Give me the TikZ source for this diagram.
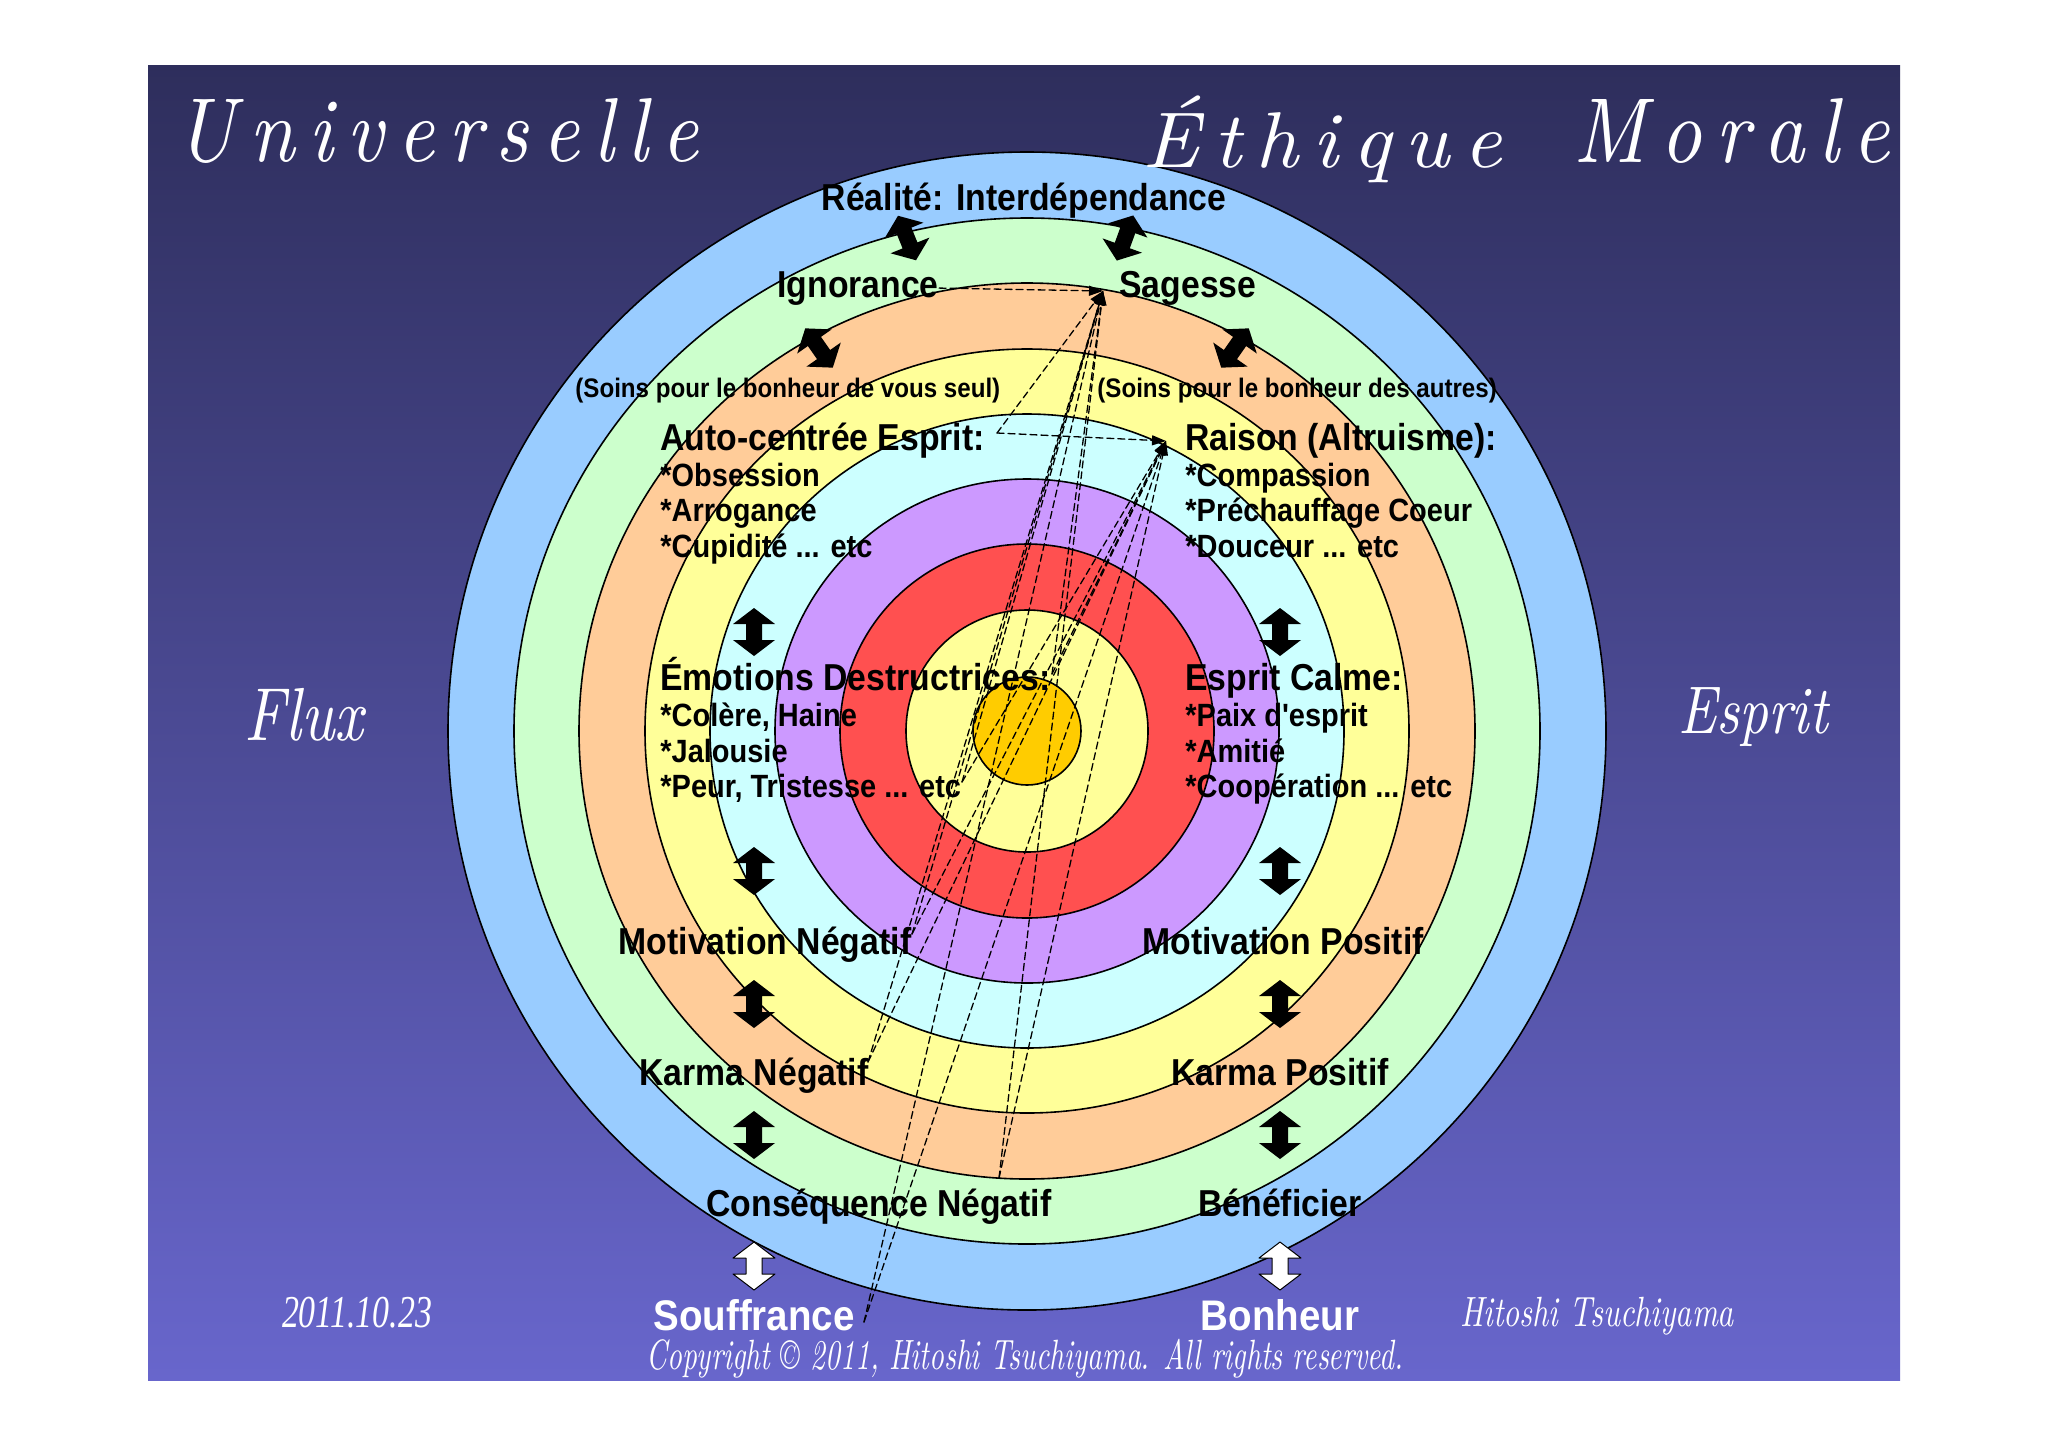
\documentclass[tikz,border=0pt]{standalone}
\usepackage{fontspec}
\usepackage{tikz}
\usetikzlibrary{arrows.meta}
\newfontfamily\lblfont[FakeStretch=0.9]{Liberation Sans}
\newfontfamily\datefont{Liberation Serif}
\definecolor{bgtop}{RGB}{46,46,92}
\definecolor{bgbot}{RGB}{104,102,204}
\definecolor{ringblue}{HTML}{99CCFF}
\definecolor{ringgreen}{HTML}{CCFFCC}
\definecolor{ringorange}{HTML}{FFCC99}
\definecolor{ringyellow}{HTML}{FFFF99}
\definecolor{ringcyan}{HTML}{CCFFFF}
\definecolor{ringpurple}{HTML}{CC99FF}
\definecolor{ringred}{HTML}{FF5050}
\definecolor{ringcore}{HTML}{FFCC00}
\makeatletter
\def\spreadword#1{\spread@loop#1\relax}
\def\spread@loop#1{\ifx#1\relax\unkern\else#1\kern0.17em\expandafter\spread@loop\fi}
\makeatother

\begin{document}
\begin{tikzpicture}[x=0.5pt,y=-0.5pt,line cap=round,line join=round,
  ring/.style={draw=black,line width=0.8pt},
  hdr/.style={font=\lblfont\bfseries\fontsize{18.75}{20}\selectfont,inner sep=0pt},
  itm/.style={font=\lblfont\bfseries\fontsize{16.1}{18}\selectfont,inner sep=0pt},
  care/.style={font=\lblfont\bfseries\fontsize{13.4}{15}\selectfont,inner sep=0pt},
  fate/.style={font=\lblfont\bfseries\fontsize{21.4}{23}\selectfont,text=white,inner sep=0pt},
  script/.style={text=white,inner sep=0pt},
  flow/.style={draw=black,line width=0.65pt,dash pattern=on 3.5pt off 2pt,-{Triangle[length=7pt,width=5pt]}},
  updown/.pic={\path[pic actions] (0,-24) -- (21,-8) -- (8,-8) -- (8,8) -- (21,8) -- (0,24) -- (-21,8) -- (-8,8) -- (-8,-8) -- (-21,-8) -- cycle;}]
\path[use as bounding box] (0,0) rectangle (2048,1447);
\fill[white] (0,0) rectangle (2048,1447);
\shade[top color=bgtop,bottom color=bgbot] (148,65) rectangle (1900,1380);
\filldraw[ring,fill=ringblue] (1027,731) circle[radius=579];
\filldraw[ring,fill=ringgreen] (1027,731) circle[radius=513];
\filldraw[ring,fill=ringorange] (1027,731) circle[radius=448];
\filldraw[ring,fill=ringyellow] (1027,731) circle[radius=382];
\filldraw[ring,fill=ringcyan] (1027,731) circle[radius=317];
\filldraw[ring,fill=ringpurple] (1027,731) circle[radius=252];
\filldraw[ring,fill=ringred] (1027,731) circle[radius=187];
\filldraw[ring,fill=ringyellow] (1027,731) circle[radius=121];
\filldraw[ring,fill=ringcore] (1027,731) circle[radius=54];
\node[script] (univ) at (437.5,130.5) {\resizebox*{261.5pt}{32.5pt}{\itshape\spreadword{Universelle}}};
\node[script] (ethq) at (1322.5,139.5) {\resizebox*{180pt}{43.5pt}{\itshape\spreadword{Éthique}}};
\node[script] (morl) at (1732,130.5) {\resizebox*{158pt}{32.5pt}{\itshape\spreadword{Morale}}};
\node[script] (flux) at (304,714.5) {\resizebox*{59pt}{26.5pt}{\itshape Flux}};
\node[script] (esprit) at (1753,717.5) {\resizebox*{75pt}{29.5pt}{\itshape Esprit}};
\node[script] (date) at (357,1312.5) {\resizebox*{75pt}{15.5pt}{\datefont\itshape 2011.10.23}};
\node[script] (auth) at (1597,1316) {\resizebox*{137pt}{19pt}{\itshape Hitoshi Tsuchiyama}};
\node[script] (copy) at (1025,1358.5) {\resizebox*{378.5pt}{19.5pt}{\itshape Copyright © 2011, Hitoshi Tsuchiyama. All rights reserved.}};
\node[hdr,anchor=base] (real) at (1024,210) {Réalité: Interdépendance};
\node[hdr,anchor=base west] (ign) at (777,297) {Ignorance};
\node[hdr,anchor=base west] (sag) at (1119,297) {Sagesse};
\node[care,anchor=base west] (soinl) at (575,397) {(Soins pour le bonheur de vous seul)};
\node[care,anchor=base west] (soinr) at (1097,397) {(Soins pour le bonheur des autres)};
\node[hdr,anchor=base west] (auto) at (660,450) {Auto-centrée Esprit:};
\node[itm,anchor=base west] (obs) at (660,486) {*Obsession};
\node[itm,anchor=base west] (arr) at (660,521) {*Arrogance};
\node[itm,anchor=base west] (cup) at (660,557) {*Cupidité ... etc};
\node[hdr,anchor=base west] (raison) at (1185,450) {Raison (Altruisme):};
\node[itm,anchor=base west] (comp) at (1185,486) {*Compassion};
\node[itm,anchor=base west] (prech) at (1185,521) {*Préchauffage Coeur};
\node[itm,anchor=base west] (douc) at (1185,557) {*Douceur ... etc};
\node[hdr,anchor=base west] (emo) at (660,690) {Émotions Destructrices:};
\node[itm,anchor=base west] (col) at (660,726) {*Colère, Haine};
\node[itm,anchor=base west] (jal) at (660,762) {*Jalousie};
\node[itm,anchor=base west] (peur) at (660,797) {*Peur, Tristesse ... etc};
\node[hdr,anchor=base west] (calme) at (1185,690) {Esprit Calme:};
\node[itm,anchor=base west] (paix) at (1185,726) {*Paix d'esprit};
\node[itm,anchor=base west] (amit) at (1185,762) {*Amitié};
\node[itm,anchor=base west] (coop) at (1185,797) {*Coopération ... etc};
\node[hdr,anchor=base] (motn) at (765,954) {Motivation Négatif};
\node[hdr,anchor=base] (motp) at (1283,954) {Motivation Positif};
\node[hdr,anchor=base] (karn) at (754,1085) {Karma Négatif};
\node[hdr,anchor=base] (karp) at (1280,1085) {Karma Positif};
\node[hdr,anchor=base] (cons) at (879,1216) {Conséquence Négatif};
\node[hdr,anchor=base] (bene) at (1280,1216) {Bénéficier};
\node[fate,anchor=base] (souf) at (754,1330) {Souffrance};
\node[fate,anchor=base] (bonh) at (1280,1330) {Bonheur};
\coordinate (sagtip) at (1103,291);
\coordinate (raitip) at (1166,441);
\coordinate (autoend) at (997,433);
\coordinate (emoend) at (1052,674);
\coordinate (peurend) at (962,782);
\coordinate (motend) at (912,934);
\coordinate (karend) at (868,1062);
\coordinate (consend) at (999,1178);
\coordinate (soufend) at (864,1322);
\draw[flow] (ign.east) -- (sagtip);
\draw[flow] (autoend) -- (raitip);
\draw[flow] (autoend) -- (sagtip);
\draw[flow] (emoend) -- (sagtip);
\draw[flow] (emoend) -- (raitip);
\draw[flow] (peurend) -- (sagtip);
\draw[flow] (peurend) -- (raitip);
\draw[flow] (motend) -- (sagtip);
\draw[flow] (motend) -- (raitip);
\draw[flow] (karend) -- (sagtip);
\draw[flow] (karend) -- (raitip);
\draw[flow] (consend) -- (sagtip);
\draw[flow] (consend) -- (raitip);
\draw[flow] (soufend) -- (sagtip);
\draw[flow] (soufend) -- (raitip);
\pic[fill=black,rotate=22] at (907,238) {updown};
\pic[fill=black,rotate=-20] at (1125,238) {updown};
\pic[fill=black,rotate=35] at (819,348) {updown};
\pic[fill=black,rotate=-35] at (1235,348) {updown};
\pic[fill=black] at (754,632) {updown};
\pic[fill=black] at (1280,632) {updown};
\pic[fill=black] at (754,871) {updown};
\pic[fill=black] at (1280,871) {updown};
\pic[fill=black] at (754,1004) {updown};
\pic[fill=black] at (1280,1004) {updown};
\pic[fill=black] at (754,1135) {updown};
\pic[fill=black] at (1280,1135) {updown};
\pic[fill=white,draw=black,line width=0.5pt] at (754,1266) {updown};
\pic[fill=white,draw=black,line width=0.5pt] at (1280,1266) {updown};
\end{tikzpicture}
\end{document}
